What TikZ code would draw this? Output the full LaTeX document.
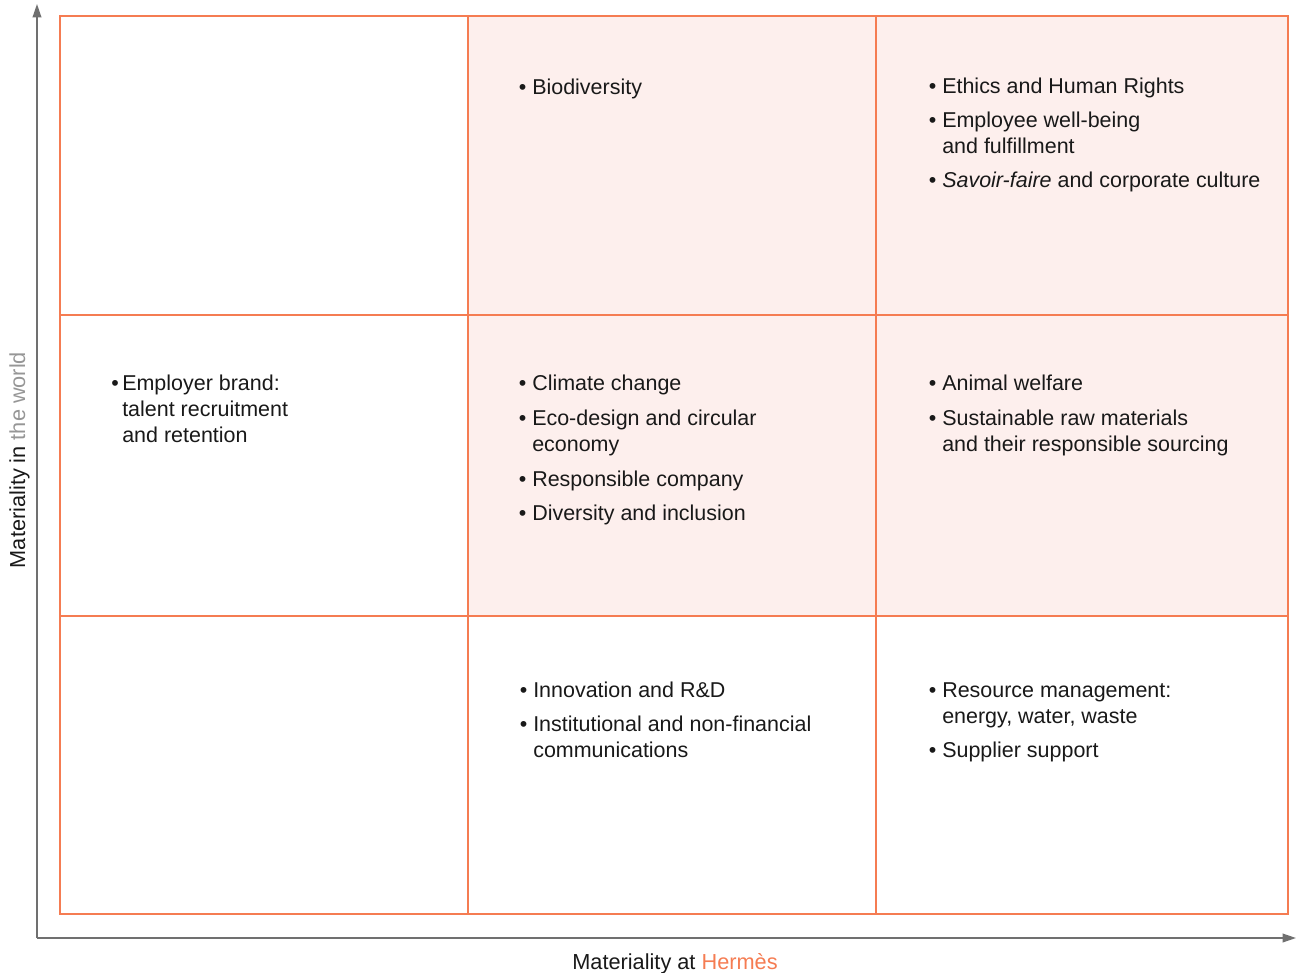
\documentclass[tikz,border=0pt]{standalone}
\usepackage{fontspec}
\setmainfont{Liberation Sans}
\usetikzlibrary{arrows.meta}
\definecolor{gridorange}{RGB}{245,124,82}
\definecolor{cellpink}{RGB}{253,239,237}
\definecolor{axisgray}{RGB}{112,112,112}
\definecolor{softgray}{RGB}{150,150,150}
\newcommand{\bul}{\llap{\textbullet\hspace{4.5pt}}}
\begin{document}
\begin{tikzpicture}[x=0.75pt,y=-0.75pt,
  gridline/.style={draw=gridorange,line width=2.2pt},
  axisline/.style={draw=axisgray,line width=1.1pt,-{Triangle[length=10pt,width=6.5pt]}},
  entry/.style={anchor=base west,inner sep=0pt,font=\fontsize{16.1}{19.5}\selectfont,text=black!90},
  axislabel/.style={inner sep=0pt,font=\fontsize{16.3}{19.5}\selectfont,text=black!90}]
\useasboundingbox (0,0) rectangle (1296,973);
% shaded cells
\fill[cellpink] (468,16) rectangle (1288,616);
% grid
\draw[gridline] (60,16) rectangle (1288,914);
\draw[gridline] (468,16) -- (468,914);
\draw[gridline] (876,16) -- (876,914);
\draw[gridline] (60,315) -- (1288,315);
\draw[gridline] (60,616) -- (1288,616);
% axes
\coordinate (o) at (37,938);
\coordinate (ytip) at (37,4);
\coordinate (xtip) at (1296,938);
\draw[axisline] (o) -- (ytip);
\draw[axisline] (o) -- (xtip);
\node[axislabel,anchor=base] (xlab) at (675,969) {Materiality at \textcolor{gridorange}{Hermès}};
\node[axislabel,anchor=base,rotate=90] (ylab) at (25,460) {Materiality in \textcolor{softgray}{the world}};
% top row
\node[entry] (bio) at (532,95) {\bul Biodiversity};
\node[entry] (eth) at (942,94) {\bul Ethics and Human Rights};
\node[entry] (emp) at (942,128) {\begin{tabular}[t]{@{}l@{}}\bul Employee well-being\\and fulfillment\end{tabular}};
\node[entry] (sav) at (942,188) {\bul\textit{Savoir-faire} and corporate culture};
% middle row
\node[entry] (brand) at (122,391) {\begin{tabular}[t]{@{}l@{}}\llap{\textbullet\hspace{2.5pt}}Employer brand:\\talent recruitment\\and retention\end{tabular}};
\node[entry] (clim) at (532,391) {\bul Climate change};
\node[entry] (eco) at (532,426) {\begin{tabular}[t]{@{}l@{}}\bul Eco-design and circular\\economy\end{tabular}};
\node[entry] (resp) at (532,486) {\bul Responsible company};
\node[entry] (div) at (532,520) {\bul Diversity and inclusion};
\node[entry] (anim) at (942,391) {\bul Animal welfare};
\node[entry] (sust) at (942,426) {\begin{tabular}[t]{@{}l@{}}\bul Sustainable raw materials\\and their responsible sourcing\end{tabular}};
% bottom row
\node[entry] (innov) at (533,697) {\bul Innovation and R\&D};
\node[entry] (inst) at (533,731) {\begin{tabular}[t]{@{}l@{}}\bul Institutional and non-financial\\communications\end{tabular}};
\node[entry] (res) at (942,697) {\begin{tabular}[t]{@{}l@{}}\bul Resource management:\\energy, water, waste\end{tabular}};
\node[entry] (supp) at (942,757) {\bul Supplier support};
\end{tikzpicture}
\end{document}
